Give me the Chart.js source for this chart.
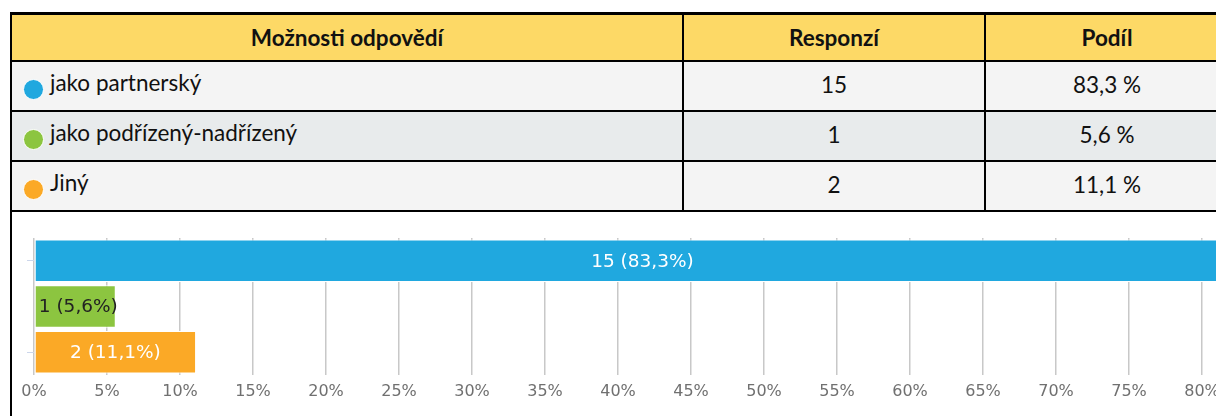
<!DOCTYPE html>
<html lang="cs">
<head>
  <meta charset="UTF-8">
  <title>Možnosti odpovědí</title>
  <script src="https://cdn.jsdelivr.net/npm/chart.js"></script>
  <style>
    html, body {
      margin: 0;
      padding: 0;
      width: 1216px;
      height: 416px;
      overflow: hidden;
      background: #fff;
    }
    #tabulka {
      position: absolute;
      left: 10px;
      top: 12px;
      border-collapse: separate;
      border-spacing: 0;
      table-layout: fixed;
      width: 1220px;
      border-left: 2px solid #000;
      border-top: 3px solid #000;
      font-family: Lato, "Open Sans", sans-serif;
      font-size: 22.5px;
      color: #111;
    }
    #tabulka th, #tabulka td {
      border-right: 2px solid #000;
      border-bottom: 2px solid #000;
      padding: 0;
      box-sizing: border-box;
    }
    #tabulka th {
      background: #fdd966;
      height: 47px;
      font-weight: bold;
      text-align: center;
      padding-bottom: 1px;
    }
    #tabulka td {
      height: 50px;
      text-align: center;
      padding-bottom: 4px;
    }
    #tabulka tr.lichy td { background: #f4f4f4; }
    #tabulka tr.sudy td { background: #e8ebec; }
    #tabulka td.nazev {
      text-align: left;
      padding-left: 11px;
    }
    .tecka {
      display: inline-block;
      width: 19px;
      height: 19px;
      border-radius: 50%;
      border: 1px solid #fff;
      vertical-align: -9px;
      margin-right: 6px;
    }
    #graf-box {
      position: absolute;
      left: 10px;
      top: 212px;
      width: 1400px;
      height: 204px;
      border-left: 2px solid #000;
    }
    #graf {
      position: absolute;
      left: 0;
      top: 2px;
    }
  </style>
</head>
<body>
  <table id="tabulka">
    <colgroup>
      <col style="width: 672px">
      <col style="width: 302px">
      <col style="width: 244px">
    </colgroup>
    <thead>
      <tr><th>Možnosti odpovědí</th><th>Responzí</th><th>Podíl</th></tr>
    </thead>
    <tbody id="radky"></tbody>
  </table>

  <div id="graf-box">
    <canvas id="graf" width="1376" height="202"></canvas>
  </div>

  <script>
    // data
    const moznosti = ["jako partnerský", "jako podřízený-nadřízený", "Jiný"];
    const responzi = [15, 1, 2];
    const podil = [83.3, 5.6, 11.1];
    const osaMax = 90;
    const osaKrok = 5;

    const barvy = ["#20a8df", "#8cc540", "#fba926"];
    const barvyTextu = ["#ffffff", "#222222", "#ffffff"];

    const cislo = v => v.toString().replace(".", ",");

    // tabulka
    const tbody = document.getElementById("radky");
    moznosti.forEach((m, i) => {
      const tr = document.createElement("tr");
      tr.className = i % 2 === 0 ? "lichy" : "sudy";
      tr.innerHTML =
        `<td class="nazev"><span class="tecka" style="background:${barvy[i]}"></span>${m}</td>` +
        `<td>${responzi[i]}</td><td>${cislo(podil[i])} %</td>`;
      tbody.appendChild(tr);
    });

    // popisky v pruzich
    const popisky = {
      id: "popisky",
      afterDatasetsDraw(chart) {
        const ctx = chart.ctx;
        const meta = chart.getDatasetMeta(0);
        ctx.save();
        ctx.font = "18.5px 'DejaVu Sans'";
        ctx.textBaseline = "middle";
        meta.data.forEach((bar, i) => {
          const text = `${responzi[i]} (${cislo(podil[i])}%)`;
          ctx.fillStyle = barvyTextu[i];
          const w = ctx.measureText(text).width;
          if (w + 8 > bar.x - bar.base) {
            ctx.textAlign = "left";
            ctx.fillText(text, bar.base + 4, bar.y + 1);
          } else {
            ctx.textAlign = "center";
            ctx.fillText(text, (bar.base + bar.x) / 2, bar.y + 1);
          }
        });
        ctx.restore();
      }
    };

    const ctx = document.getElementById("graf").getContext("2d");
    const chart = new Chart(ctx, {
      type: "bar",
      data: {
        labels: moznosti,
        datasets: [{
          data: podil,
          backgroundColor: barvy,
          borderColor: "#ffffff",
          borderWidth: 1,
          borderSkipped: false,
          barPercentage: 0.93,
          categoryPercentage: 1
        }]
      },
      options: {
        indexAxis: "y",
        responsive: false,
        animation: false,
        layout: {
          autoPadding: false,
          padding: { left: 0, right: 40, top: 24, bottom: 0 }
        },
        plugins: {
          legend: { display: false },
          tooltip: { enabled: false }
        },
        scales: {
          x: {
            min: 0,
            max: osaMax,
            border: { display: false },
            grid: { color: "#c8c8c8", lineWidth: 1.5, drawTicks: false },
            ticks: {
              stepSize: osaKrok,
              padding: 7,
              color: "#707070",
              font: { family: "DejaVu Sans", size: 16 },
              callback: v => v + "%"
            },
            afterFit: s => { s.height = 41; }
          },
          y: {
            border: { display: false },
            grid: {
              offset: false,
              drawOnChartArea: false,
              drawTicks: true,
              tickLength: 7,
              color: c => (c.index === 1 ? "rgba(0,0,0,0)" : "#ccd6eb")
            },
            ticks: { display: false },
            afterFit: s => { s.width = 22; }
          }
        }
      },
      plugins: [popisky]
    });
  </script>
</body>
</html>
